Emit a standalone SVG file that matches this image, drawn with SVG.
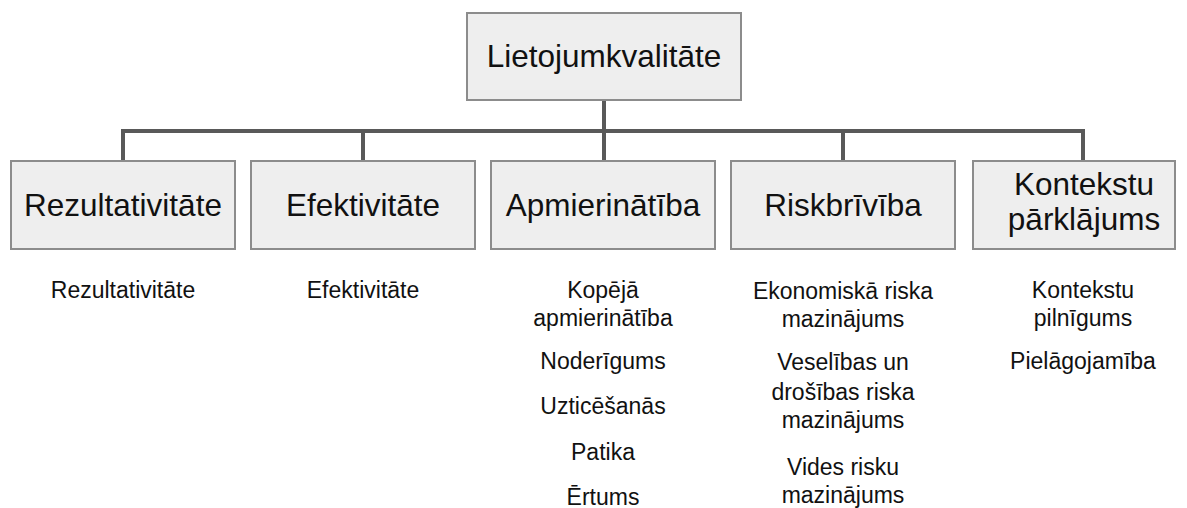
<svg xmlns="http://www.w3.org/2000/svg" width="1187" height="508" viewBox="0 0 1187 508">
<style>
.box{fill:#eeeeee;stroke:#8c8c8c;stroke-width:2}
.big{font-family:"Liberation Sans",Arial,sans-serif;font-size:31.5px;fill:#111;text-anchor:middle}
.sm{font-family:"Liberation Sans",Arial,sans-serif;font-size:23px;fill:#111;text-anchor:middle}
.ln{stroke:#595959;stroke-width:4;fill:none}
</style>
<rect width="1187" height="508" fill="#ffffff"/>
<g id="connectors">
<line class="ln" x1="604" y1="100" x2="604" y2="161"/>
<line class="ln" x1="121" y1="131" x2="1085" y2="131"/>
<line class="ln" x1="123" y1="129" x2="123" y2="161"/>
<line class="ln" x1="363" y1="131" x2="363" y2="161"/>
<line class="ln" x1="843" y1="131" x2="843" y2="161"/>
<line class="ln" x1="1083" y1="129" x2="1083" y2="161"/>
</g>
<g id="root">
<rect class="box" x="467" y="13" width="274" height="87"/>
<text class="big" x="604" y="67">Lietojumkvalitāte</text>
</g>
<g id="n1">
<rect class="box" x="11" y="161" width="224" height="88"/>
<text class="big" x="123" y="216">Rezultativitāte</text>
<text class="sm" x="123" y="298">Rezultativitāte</text>
</g>
<g id="n2">
<rect class="box" x="251" y="161" width="224" height="88"/>
<text class="big" x="363" y="216">Efektivitāte</text>
<text class="sm" x="363" y="298">Efektivitāte</text>
</g>
<g id="n3">
<rect class="box" x="491" y="161" width="224" height="88"/>
<text class="big" x="603" y="216">Apmierinātība</text>
<text class="sm" x="603" y="298">Kopējā</text>
<text class="sm" x="603" y="326">apmierinātība</text>
<text class="sm" x="603" y="369">Noderīgums</text>
<text class="sm" x="603" y="414">Uzticēšanās</text>
<text class="sm" x="603" y="460">Patika</text>
<text class="sm" x="603" y="505">Ērtums</text>
</g>
<g id="n4">
<rect class="box" x="731" y="161" width="224" height="88"/>
<text class="big" x="843" y="216">Riskbrīvība</text>
<text class="sm" x="843" y="299">Ekonomiskā riska</text>
<text class="sm" x="843" y="327">mazinājums</text>
<text class="sm" x="843" y="370">Veselības un</text>
<text class="sm" x="843" y="400">drošības riska</text>
<text class="sm" x="843" y="428">mazinājums</text>
<text class="sm" x="843" y="475">Vides risku</text>
<text class="sm" x="843" y="503">mazinājums</text>
</g>
<g id="n5">
<rect class="box" x="973" y="161" width="202" height="88"/>
<text class="big" x="1084" y="195">Kontekstu</text>
<text class="big" x="1084" y="230">pārklājums</text>
<text class="sm" x="1083" y="298">Kontekstu</text>
<text class="sm" x="1083" y="326">pilnīgums</text>
<text class="sm" x="1083" y="369">Pielāgojamība</text>
</g>
</svg>
